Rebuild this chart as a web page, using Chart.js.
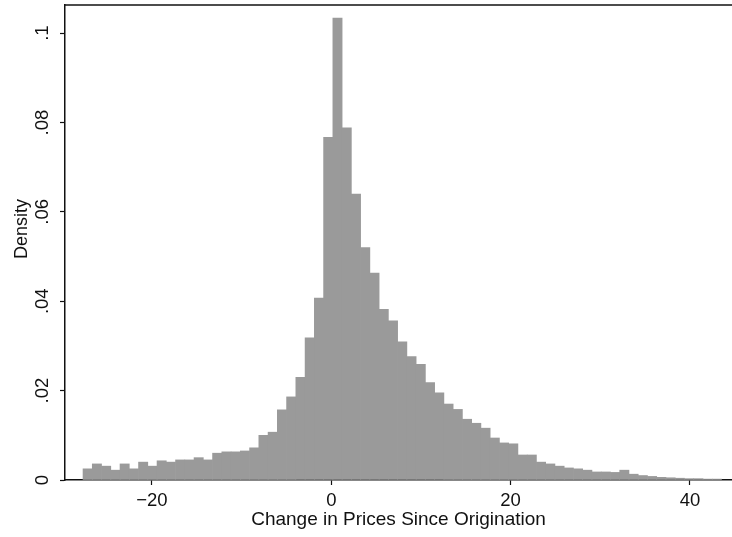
<!DOCTYPE html>
<html><head><meta charset="utf-8">
<script src="https://cdn.jsdelivr.net/npm/chart.js@4.4.1/dist/chart.umd.min.js"></script>
<style>html,body{margin:0;padding:0;background:#fff;} canvas{display:block;}</style>
</head><body>
<canvas id="c" width="732" height="537"></canvas>
<script>
// Histogram bin centres (change in prices since origination)
const binCenters = [
  -27.174, -26.142, -25.110, -24.078, -23.046, -22.014, -20.982, -19.950, -18.918, -17.886,
  -16.854, -15.822, -14.790, -13.758, -12.726, -11.694, -10.662, -9.630, -8.598, -7.566,
  -6.534, -5.502, -4.470, -3.438, -2.406, -1.374, -0.342, 0.690, 1.722, 2.754,
  3.786, 4.818, 5.850, 6.882, 7.914, 8.946, 9.978, 11.010, 12.042, 13.074,
  14.106, 15.138, 16.170, 17.202, 18.234, 19.266, 20.298, 21.330, 22.362, 23.394,
  24.426, 25.458, 26.490, 27.522, 28.554, 29.586, 30.618, 31.650, 32.682, 33.714,
  34.746, 35.778, 36.810, 37.842, 38.874, 39.906, 40.938, 41.970, 43.002
];
// Density of each bin
const density = [
  0.0025, 0.0036, 0.0031, 0.0022, 0.0036, 0.0025, 0.0040, 0.0031, 0.0043, 0.0040,
  0.0045, 0.0045, 0.0050, 0.0045, 0.0060, 0.0063, 0.0063, 0.0065, 0.0072, 0.0100,
  0.0107, 0.0157, 0.0186, 0.0230, 0.0318, 0.0407, 0.0767, 0.1034, 0.0788, 0.0640,
  0.0520, 0.0463, 0.0382, 0.0356, 0.0309, 0.0276, 0.0259, 0.0218, 0.0195, 0.0170,
  0.0158, 0.0136, 0.0127, 0.0116, 0.0094, 0.0083, 0.0081, 0.0056, 0.0056, 0.0040,
  0.0036, 0.0031, 0.0027, 0.0025, 0.0022, 0.0018, 0.0018, 0.0017, 0.0022, 0.0013,
  0.0010, 0.0008, 0.0006, 0.0005, 0.0004, 0.0003, 0.0003, 0.0002, 0.0002
];
const xTicks = [-20, 0, 20, 40];
const yTicks = [0, 0.02, 0.04, 0.06, 0.08, 0.1];
const xTitle = 'Change in Prices Since Origination';
const yTitle = 'Density';

const FONT = "'Liberation Sans', Arial, Helvetica, sans-serif";

const frameAndTitle = {
  id: 'frameAndTitle',
  afterDraw(chart) {
    const {ctx, chartArea} = chart;
    ctx.save();
    ctx.strokeStyle = '#111';
    ctx.lineWidth = 1.5;
    ctx.beginPath();
    ctx.moveTo(chartArea.left, chartArea.top);
    ctx.lineTo(chartArea.right, chartArea.top);
    ctx.stroke();
    // y-axis title
    ctx.fillStyle = '#111';
    ctx.font = "18px " + FONT;
    ctx.textAlign = 'center';
    ctx.textBaseline = 'middle';
    ctx.translate(22, 229);
    ctx.rotate(-Math.PI / 2);
    ctx.fillText(yTitle, 0, 0);
    ctx.restore();
  }
};

new Chart(document.getElementById('c'), {
  type: 'bar',
  data: {
    datasets: [{
      data: binCenters.map((x, i) => ({x: x, y: density[i]})),
      backgroundColor: '#9a9a9a',
      borderWidth: 0,
      barPercentage: 1.0,
      categoryPercentage: 1.0
    }]
  },
  options: {
    responsive: false,
    animation: false,
    devicePixelRatio: 1,
    layout: {padding: {top: 5, right: 0, left: 0, bottom: 0}},
    plugins: {legend: {display: false}, tooltip: {enabled: false}},
    scales: {
      x: {
        type: 'linear',
        offset: false,
        min: -29.7,
        max: 44.69,
        afterFit: s => { s.height = 57; s.paddingLeft = 0; s.paddingRight = 0; },
        afterBuildTicks: s => { s.ticks = xTicks.map(v => ({value: v})); },
        grid: {display: true, offset: false, drawOnChartArea: false, drawTicks: true, tickLength: 5, tickColor: '#111', tickWidth: 1.2},
        border: {display: true, color: '#111', width: 1.5},
        ticks: {
          color: '#111',
          font: {family: FONT, size: 18.5},
          padding: 5,
          maxRotation: 0, minRotation: 0,
          callback: v => (v < 0 ? '\u2212' + Math.abs(v) : String(v))
        },
        title: {
          display: true, text: xTitle, color: '#111',
          font: {family: FONT, size: 19},
          padding: {top: 0, bottom: 6}
        }
      },
      y: {
        type: 'linear',
        min: 0,
        max: 0.1063,
        afterFit: s => { s.width = 65; s.paddingTop = 0; s.paddingBottom = 0; },
        afterBuildTicks: s => { s.ticks = yTicks.map(v => ({value: v})); },
        grid: {display: true, drawOnChartArea: false, drawTicks: true, tickLength: 5, tickColor: '#111', tickWidth: 1.2},
        border: {display: true, color: '#111', width: 1.5},
        ticks: {
          color: '#111',
          font: {family: FONT, size: 18.5},
          padding: 4,
          minRotation: 90, maxRotation: 90,
          crossAlign: 'center',
          callback: v => {
            const r = Math.round(v * 100) / 100;
            return r === 0 ? '0' : String(r).replace(/^0\./, '.');
          }
        },
        title: {display: false}
      }
    }
  },
  plugins: [frameAndTitle]
});
</script>
</body></html>
